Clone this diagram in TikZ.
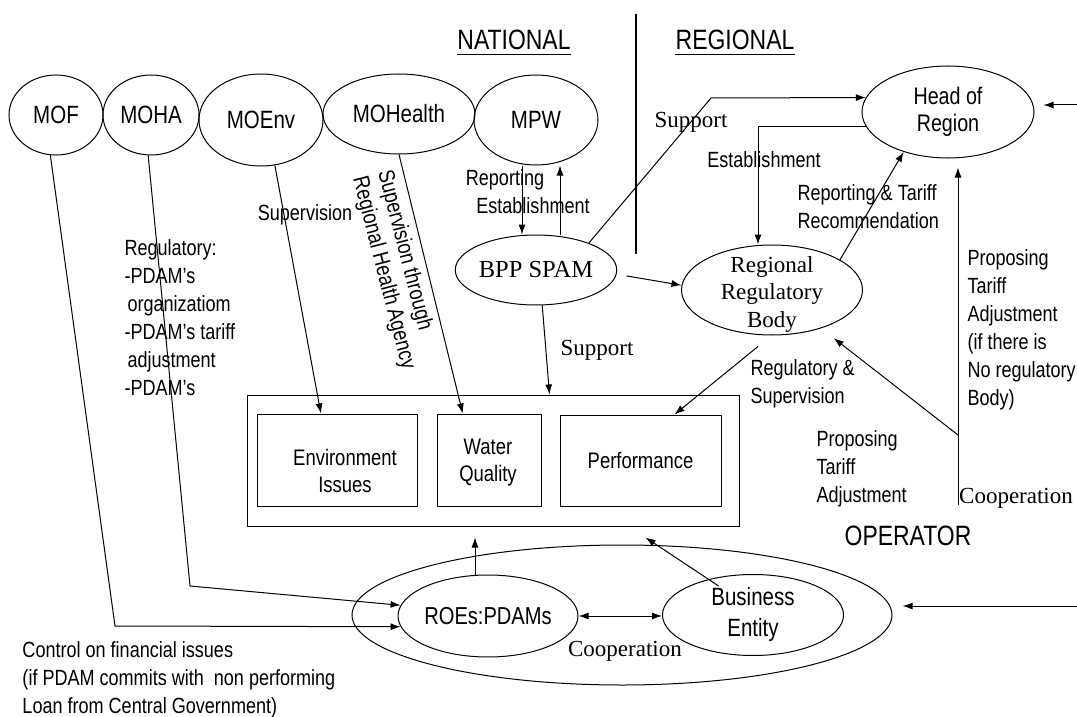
\documentclass[tikz,border=0pt]{standalone}
\usepackage{fontspec}
\setmainfont{Liberation Serif}
\newfontfamily\nsans[FakeStretch=0.82]{Liberation Sans}
\usetikzlibrary{arrows.meta,calc,shapes.geometric}
\newcommand\sfz[2]{\nsans\fontsize{#1}{#2}\selectfont}
\newcommand\rmz[2]{\rmfamily\fontsize{#1}{#2}\selectfont}
\begin{document}
\begin{tikzpicture}[x=1pt,y=-1pt,line width=1pt,
 arr/.style={-{Latex[length=10pt,width=7pt]}},
 darr/.style={{Latex[length=10pt,width=7pt]}-{Latex[length=10pt,width=7pt]}},
 ell/.style={draw,ellipse,inner sep=0pt},
 rbox/.style={draw,rectangle,inner sep=0pt},
 lab/.style={inner sep=0pt,align=left,font=\sfz{22}{28}},
 slab/.style={inner sep=0pt,font=\rmz{23}{28}},
 mini/.style={font=\sfz{25}{28}}]
\fill[white] (0,0) rectangle (1077,717);
\useasboundingbox (0,0) rectangle (1077,717);

% headings
\node[inner sep=0pt,anchor=base,font=\sfz{28}{28}] (nat) at (514,50) {NATIONAL};
\draw[line width=1.8pt] ($(nat.base west)+(0,4.5)$) -- ($(nat.base east)+(0,4.5)$);
\node[inner sep=0pt,anchor=base,font=\sfz{28}{28}] (reg) at (735,50) {REGIONAL};
\draw[line width=1.8pt] ($(reg.base west)+(0,4.5)$) -- ($(reg.base east)+(0,4.5)$);
\draw[line width=2.5pt] (636,14) -- (636,254);

% ministries
\node[ell,mini,minimum width=94,minimum height=80] (mof) at (56,115) {MOF};
\node[ell,mini,minimum width=96,minimum height=80] (moha) at (151,115) {MOHA};
\node[ell,mini,minimum width=124,minimum height=92] (moenv) at (261,120) {MOEnv};
\node[ell,mini,minimum width=152,minimum height=80] (mohealth) at (399,114) {MOHealth};
\node[ell,mini,minimum width=124,minimum height=90] (mpw) at (536,120) {MPW};

% regional
\node[ell,align=center,font=\sfz{24}{27},minimum width=172,minimum height=92] (head) at (948,112) {Head of\\Region};
\node[ell,font=\rmz{24.5}{28},minimum width=161,minimum height=70] (bpp) at (536,270) {BPP SPAM};
\node[ell,minimum width=181,minimum height=90] (rrb) at (772,290) {};
\node[inner sep=0pt,align=center,anchor=north,font=\rmz{23}{27.5}] (rrbt) at (772,256) {Regional\\Regulatory\\Body};

% boxes
\node[rbox,minimum width=492,minimum height=131] (bigbox) at (493,460.5) {};
\node[rbox,minimum width=160,minimum height=92] (env) at (337,460) {};
\node[lab,align=center,anchor=north,font=\sfz{22.5}{27}] (envt) at (345,449) {Environment\\Issues};
\node[rbox,minimum width=104,minimum height=92] (wq) at (489,460) {};
\node[lab,align=center,anchor=north,font=\sfz{22.5}{27}] (wqt) at (488,439) {Water\\Quality};
\node[rbox,font=\sfz{22.5}{27},minimum width=161,minimum height=91] (perf) at (640.5,460.5) {Performance};

% operator
\node[ell,minimum width=540,minimum height=140] (op) at (622,615) {};
\node[ell,font=\sfz{24.5}{28},minimum width=180,minimum height=82] (roes) at (488,616) {ROEs:PDAMs};
\node[ell,align=center,font=\sfz{25}{31},minimum width=181,minimum height=81] (be) at (753,615) {Business\\Entity};

% connectors
\coordinate (kf) at (115,626);
\draw[arr] (mof.262) -- (kf) -- (roes.187);
\coordinate (kh) at (190,586);
\draw[arr] (moha.266) -- (kh) -- (roes.173);
\draw[arr] (moenv.287) -- ($(env.north west)!0.4!(env.north east)$);
\draw[arr] (mohealth.south) -- ($(wq.north west)!0.25!(wq.north east)$);
\draw[arr] ($(mpw.south)+(-14,0)$) -- ($(bpp.north)+(-14,0)$);
\draw[arr] ($(bpp.north)+(24,0)$) -- ($(mpw.south)+(24,0)$);
\coordinate (sb) at (711,98);
\draw[arr] (bpp.27) -- (sb) -- (head.170);
\draw[arr] (head.190) -| ($(rrb.north)+(-14,0)$);
\draw[arr] (rrb.24) -- (head.222);
\draw[arr,shorten <=10pt] (bpp.-3) -- (rrb.177);
\draw[arr] (bpp.-80) -- ($(bigbox.north west)+(303,0)$);
\draw[arr] ($(rrb.south)+(-14,11)$) -- ($(perf.north west)+(115,0)$);
\coordinate (rv) at (958,505);
\draw[arr,shorten >=9pt] (rv) -- ($(head.south)+(10,0)$);
\coordinate (rd) at (958,435);
\draw[arr,shorten >=16pt] (rd) -- (rrb);
\coordinate (rh) at (1077,105);
\draw[arr,shorten >=9pt] (rh) -- (rh -| head.east);
\coordinate (ro) at (1077,606);
\draw[arr,shorten >=10pt] (ro) -- (ro -| op.east);
\draw[darr] (roes.east) -- (roes.east -| be.west);
\coordinate (r1) at ($(roes.north)+(-13,0)$);
\draw[arr,shorten >=11pt] (r1) -- (r1 |- bigbox.south);
\coordinate (b1) at ($(be.north west)+(30,0)$);
\draw[arr] (b1) -- ($(bigbox.south west)+(399,11)$);

% labels
\node[lab,anchor=north west] (lreg) at (124,239) {Regulatory:\\-PDAM’s\\\hspace*{3pt}organizatiom\\-PDAM’s tariff\\\hspace*{3pt}adjustment\\-PDAM’s};
\node[lab,anchor=base] (lsup) at (305,220) {Supervision};
\node[lab,rotate=-75.5,font=\sfz{22.5}{26}] (lsupt) at (396,270) {Supervision through\\Regional Health Agency};
\node[lab,anchor=base] (lrep) at (505,185) {Reporting};
\node[lab,anchor=base] (lest) at (533,213) {Establishment};
\node[slab,anchor=base] (lsup1) at (691,128) {Support};
\node[lab,anchor=base] (lest2) at (764,167) {Establishment};
\node[lab,anchor=north west] (lrt) at (797,184) {Reporting \& Tariff\\Recommendation};
\node[slab,anchor=base] (lsup2) at (597,355) {Support};
\node[lab,anchor=north west] (lrs) at (750,359) {Regulatory \&\\Supervision};
\node[lab,anchor=north west] (lpta) at (816,430) {Proposing\\Tariff\\Adjustment};
\node[lab,anchor=north west] (lptb) at (967,249) {Proposing\\Tariff\\Adjustment\\(if there is\\No regulatory\\Body)};
\node[slab,anchor=base] (lcoop1) at (1016,503) {Cooperation};
\node[inner sep=0pt,anchor=base,font=\sfz{28}{28}] (lop) at (908,545) {OPERATOR};
\node[slab,anchor=base] (lcoop2) at (625,656) {Cooperation};
\node[lab,anchor=north west,font=\sfz{22}{28}] (lctl) at (22,641) {Control on financial issues\\(if PDAM commits with~ non performing\\Loan from Central Government)};
\end{tikzpicture}
\end{document}
